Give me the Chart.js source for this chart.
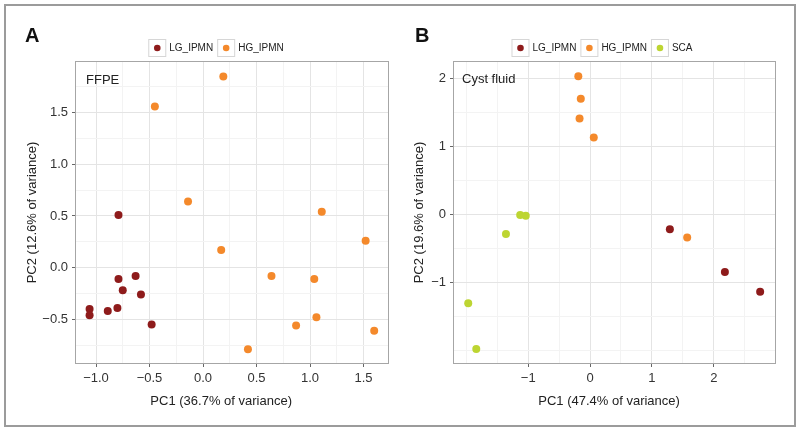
<!DOCTYPE html>
<html>
<head>
<meta charset="utf-8">
<script src="https://cdn.jsdelivr.net/npm/chart.js@4.4.0/dist/chart.umd.min.js"></script>
<style>
	body { margin: 0; background: #fff; }
	#wrap { position: relative; width: 800px; height: 432px; }
	.frame { position: absolute; left: 4px; top: 4px; width: 788px; height: 419px; border: 2px solid #9b9b9b; pointer-events: none; }
	canvas { position: absolute; top: 0; }
	#chartA { left: 0; }
	#chartB { left: 400px; }
</style>
</head>
<body>
<div id="wrap">
	<canvas id="chartA" width="400" height="432"></canvas>
	<canvas id="chartB" width="400" height="432"></canvas>
	<div class="frame"></div>
</div>
<script>
// groups
const groupNames = ['LG_IPMN', 'HG_IPMN', 'SCA'];
const groupColors = ['#8e1b1b', '#f4892b', '#bdd532'];

// panel A: FFPE
const ffpeLgPc1 = [-0.79, -0.79, -0.63, -0.75, -0.58, -0.80, -0.89, -1.06, -1.06, -0.48];
const ffpeLgPc2 = [0.51, -0.11, -0.08, -0.22, -0.26, -0.39, -0.42, -0.40, -0.46, -0.55];
const ffpeHgPc1 = [-0.45, 0.19, -0.14, 1.11, 0.17, 1.52, 0.64, 1.04, 1.06, 0.87, 1.60, 0.42];
const ffpeHgPc2 = [1.56, 1.85, 0.64, 0.54, 0.17, 0.26, -0.08, -0.11, -0.48, -0.56, -0.61, -0.79];

const ffpeXTicks = [-1.0, -0.5, 0.0, 0.5, 1.0, 1.5];
const ffpeXLabels = ['\u22121.0', '\u22120.5', '0.0', '0.5', '1.0', '1.5'];
const ffpeXMinor = [-0.75, -0.25, 0.25, 0.75, 1.25];
const ffpeYTicks = [-0.5, 0.0, 0.5, 1.0, 1.5];
const ffpeYLabels = ['\u22120.5', '0.0', '0.5', '1.0', '1.5'];
const ffpeYMinor = [-0.75, -0.25, 0.25, 0.75, 1.25, 1.75];

// panel B: cyst fluid
const cystLgPc1 = [1.29, 2.18, 2.75];
const cystLgPc2 = [-0.22, -0.85, -1.14];
const cystHgPc1 = [-0.19, -0.15, -0.17, 0.06, 1.57];
const cystHgPc2 = [2.03, 1.70, 1.41, 1.13, -0.34];
const cystScaPc1 = [-1.13, -1.04, -1.36, -1.97, -1.84];
const cystScaPc2 = [-0.01, -0.02, -0.29, -1.31, -1.98];

const cystXTicks = [-1, 0, 1, 2];
const cystXLabels = ['\u22121', '0', '1', '2'];
const cystXMinor = [-2, -1.5, -0.5, 0.5, 1.5, 2.5];
const cystYTicks = [-1, 0, 1, 2];
const cystYLabels = ['\u22121', '0', '1', '2'];
const cystYMinor = [-2, -1.5, -0.5, 0.5, 1.5];

Chart.defaults.font.family = '"Liberation Sans", Arial, Helvetica, sans-serif';
Chart.defaults.color = '#333';

const points = (xs, ys) => xs.map((x, i) => ({ x: x, y: ys[i] }));

const isIn = (v, arr) => arr.some(a => Math.abs(a - v) < 1e-6);

// ggplot-like decorations: panel letter, inner label, legend with key boxes, panel border
const ggDecor = {
	id: 'ggDecor',
	afterDraw(chart, args, opts) {
		const ctx = chart.ctx;
		const area = chart.chartArea;
		ctx.save();
		ctx.strokeStyle = '#a6a6a6';
		ctx.lineWidth = 1;
		ctx.strokeRect(area.left - 0.5, area.top - 0.5, area.right - area.left + 1, area.bottom - area.top + 1);

		ctx.fillStyle = '#111';
		ctx.font = 'bold 20px "Liberation Sans", Arial, sans-serif';
		ctx.textBaseline = 'alphabetic';
		ctx.fillText(opts.letter, opts.letterX, 42);

		ctx.fillStyle = '#222';
		ctx.font = '13px "Liberation Sans", Arial, sans-serif';
		ctx.fillText(opts.inner, opts.innerX, opts.innerY);

		// legend
		ctx.font = '10px "Liberation Sans", Arial, sans-serif';
		const ds = chart.data.datasets;
		const widths = ds.map(d => 18 + 3 + ctx.measureText(d.label).width);
		const total = widths.reduce((a, b) => a + b, 0) + 4 * (ds.length - 1);
		let x = opts.legendCx - total / 2;
		const cy = opts.legendCy;
		ds.forEach((d, i) => {
			ctx.fillStyle = '#fff';
			ctx.fillRect(x, cy - 9, 18, 18);
			ctx.strokeStyle = '#d6d6d6';
			ctx.strokeRect(x + 0.5, cy - 8.5, 17, 17);
			ctx.fillStyle = d.backgroundColor;
			ctx.beginPath();
			ctx.arc(x + 9, cy, 3.3, 0, Math.PI * 2);
			ctx.fill();
			ctx.fillStyle = '#222';
			ctx.textBaseline = 'middle';
			ctx.fillText(d.label, x + 21, cy + 0.5);
			x += widths[i] + 4;
		});
		ctx.restore();
	}
};

const makeAxis = (min, max, major, labels, minor, fit, title, titlePad) => ({
	type: 'linear',
	min: min,
	max: max,
	afterBuildTicks: s => {
		s.ticks = major.concat(minor).sort((a, b) => a - b).map(v => ({ value: v }));
	},
	afterFit: fit,
	ticks: {
		autoSkip: false,
		maxRotation: 0,
		padding: 4,
		color: '#333',
		font: { size: 13 },
		callback: v => {
			const i = major.findIndex(m => Math.abs(m - v) < 1e-6);
			return i >= 0 ? labels[i] : '';
		}
	},
	grid: {
		color: c => (c.tick && isIn(c.tick.value, major)) ? '#e4e4e4' : '#f3f3f3',
		tickColor: c => (c.tick && isIn(c.tick.value, major)) ? '#666' : 'rgba(0,0,0,0)',
		tickLength: 4,
		lineWidth: 1
	},
	border: { display: false },
	title: {
		display: true,
		text: title,
		color: '#222',
		font: { size: 13 },
		padding: titlePad
	}
});

const ds = (label, color, xs, ys) => ({
	label: label,
	data: points(xs, ys),
	backgroundColor: color,
	borderWidth: 0,
	pointRadius: 4
});

new Chart(document.getElementById('chartA'), {
	type: 'scatter',
	data: {
		datasets: [
			ds(groupNames[0], groupColors[0], ffpeLgPc1, ffpeLgPc2),
			ds(groupNames[1], groupColors[1], ffpeHgPc1, ffpeHgPc2)
		]
	},
	options: {
		responsive: false,
		animation: false,
		layout: { padding: { left: 20, right: 12, top: 62, bottom: 0 } },
		plugins: {
			legend: { display: false },
			tooltip: { enabled: false },
			ggDecor: { letter: 'A', letterX: 25, inner: 'FFPE', innerX: 86, innerY: 84, legendCx: 216, legendCy: 48 }
		},
		scales: {
			x: makeAxis(-1.187, 1.729, ffpeXTicks, ffpeXLabels, ffpeXMinor, s => { s.height = 69; },
				'PC1 (36.7% of variance)      ', { top: 0, bottom: 23 }),
			y: makeAxis(-0.923, 1.99, ffpeYTicks, ffpeYLabels, ffpeYMinor, s => { s.width = 56; },
				'PC2 (12.6% of variance)', { top: 5, bottom: 0 })
		}
	},
	plugins: [ggDecor]
});

new Chart(document.getElementById('chartB'), {
	type: 'scatter',
	data: {
		datasets: [
			ds(groupNames[0], groupColors[0], cystLgPc1, cystLgPc2),
			ds(groupNames[1], groupColors[1], cystHgPc1, cystHgPc2),
			ds(groupNames[2], groupColors[2], cystScaPc1, cystScaPc2)
		]
	},
	options: {
		responsive: false,
		animation: false,
		layout: { padding: { left: 8, right: 25, top: 62, bottom: 0 } },
		plugins: {
			legend: { display: false },
			tooltip: { enabled: false },
			ggDecor: { letter: 'B', letterX: 15, inner: 'Cyst fluid', innerX: 62, innerY: 83, legendCx: 202, legendCy: 48 }
		},
		scales: {
			x: makeAxis(-2.2, 2.99, cystXTicks, cystXLabels, cystXMinor, s => { s.height = 69; },
				'PC1 (47.4% of variance)   ', { top: 0, bottom: 23 }),
			y: makeAxis(-2.187, 2.24, cystYTicks, cystYLabels, cystYMinor, s => { s.width = 46; },
				'PC2 (19.6% of variance)', { top: 4, bottom: 0 })
		}
	},
	plugins: [ggDecor]
});
</script>
</body>
</html>
